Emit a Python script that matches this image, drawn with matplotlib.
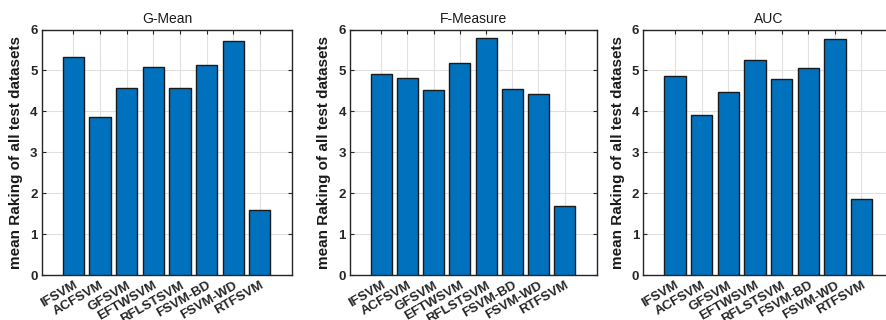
import matplotlib
matplotlib.use("Agg")
import matplotlib.pyplot as plt
import matplotlib.transforms as mtransforms
import numpy as np

methods = ["IFSVM", "ACFSVM", "GFSVM", "EFTWSVM", "RFLSTSVM", "FSVM-BD", "FSVM-WD", "RTFSVM"]
gmean = [5.33, 3.87, 4.56, 5.09, 4.58, 5.13, 5.73, 1.60]
fmeasure = [4.91, 4.81, 4.52, 5.19, 5.80, 4.54, 4.43, 1.69]
auc = [4.87, 3.90, 4.48, 5.25, 4.80, 5.07, 5.77, 1.86]
titles = ["G-Mean", "F-Measure", "AUC"]
ylabel = "mean Raking of all test datasets"

plt.rcParams["font.family"] = ["Liberation Sans", "DejaVu Sans"]
W, H = 886, 320
fig = plt.figure(figsize=(W / 100, H / 100), dpi=100)

# pixel boxes (left, right) of each panel, top/bottom shared
boxes = [(41.7, 292.3), (350.0, 596.7), (643.3, 894.0)]
top, bottom = 29.5, 275.0
axis_col = "#262626"

# shift rotated tick labels a bit right/down like MATLAB does
shift = mtransforms.ScaledTranslation(5 / 100, -2 / 100, fig.dpi_scale_trans)

x = np.arange(1, len(methods) + 1)
for (l, r), title, vals in zip(boxes, titles, [gmean, fmeasure, auc]):
    ax = fig.add_axes([l / W, (H - bottom) / H, (r - l) / W, (bottom - top) / H])
    ax.bar(x, vals, width=0.8, color="#0072BD", edgecolor="#1a1a1a", linewidth=1.0, zorder=3)
    ax.set_xlim(-0.19, 9.22)
    ax.set_ylim(0, 6)
    ax.set_yticks(range(0, 7))
    ax.set_xticks(x)
    ax.set_xticklabels(methods, rotation=30, ha="right", rotation_mode="anchor",
                       fontsize=9.5, fontweight="bold", color=axis_col)
    for lab in ax.get_xticklabels():
        lab.set_transform(lab.get_transform() + shift)
    for lab in ax.get_yticklabels():
        lab.set_fontsize(9.5)
        lab.set_fontweight("bold")
        lab.set_color(axis_col)
    ax.tick_params(direction="in", top=True, right=True, length=3, width=0.8,
                   color=axis_col, pad=3)
    ax.grid(True, color="#e0e0e0", linewidth=0.8, zorder=0)
    ax.set_axisbelow(True)
    for s in ax.spines.values():
        s.set_color(axis_col)
        s.set_linewidth(1.0)
    ax.set_title(title, fontsize=10, color="#1a1a1a", pad=5)
    ax.set_ylabel(ylabel, fontsize=11, fontweight="bold", color="#1a1a1a", labelpad=5)

fig.savefig("out.png", dpi=100)
